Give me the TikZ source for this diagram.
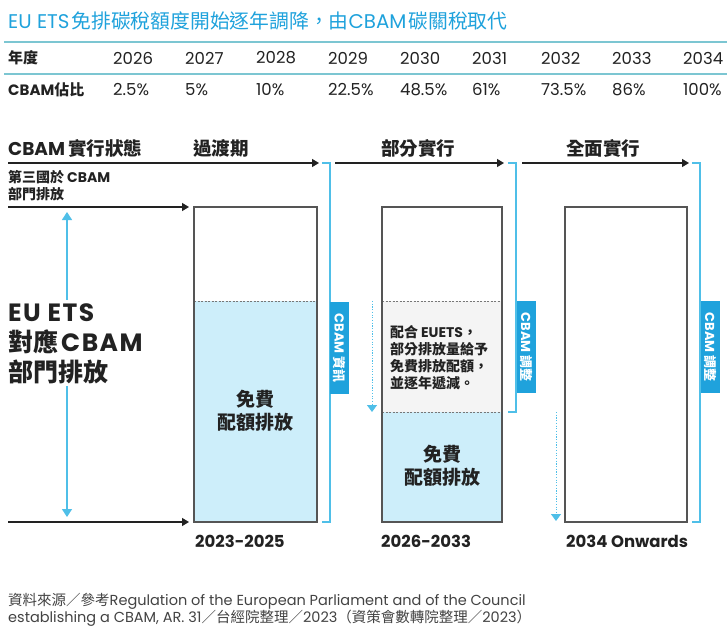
\documentclass[tikz,border=0pt]{standalone}
\usepackage{fontspec}
\setmainfont{Poppins}
\newfontfamily\cjk{Noto Sans CJK TC}
\usetikzlibrary{arrows.meta}
\definecolor{tblue}{HTML}{1FA2DC}
\definecolor{lblue}{HTML}{4FBFE8}
\definecolor{fillblue}{HTML}{CDEEFA}
\definecolor{tealline}{HTML}{7CC6D2}
\definecolor{ink}{HTML}{222222}
\definecolor{boxgray}{HTML}{555555}
\definecolor{midgray}{HTML}{F4F4F4}
\newcommand{\C}[1]{{\cjk #1}}
\newcommand{\fs}[1]{\fontsize{#1}{#1}\selectfont}
\begin{document}
\begin{tikzpicture}[x=1pt,y=-1pt,
  every node/.style={inner sep=0pt, text=ink},
  yr/.style={anchor=west, font=\fs{16.5}},
  hd/.style={anchor=west, font=\fs{15}\bfseries},
  phase/.style={anchor=west, font=\fs{18.5}\bfseries},
  blackarrow/.style={draw=ink, line width=1.2pt, -{Triangle[length=7pt,width=8pt]}},
  bracket/.style={draw=lblue, line width=1.3pt},
  tag/.style={fill=tblue, text=white, rotate=-90, minimum width=92pt, minimum height=19pt, font=\fs{13}\bfseries},
  column/.style={draw=boxgray, line width=1.4pt},
  sep/.style={draw=boxgray!80, line width=0.8pt, dash pattern=on 2pt off 1.5pt},
  bluearrow/.style={draw=lblue, line width=1.2pt, {Triangle[length=8pt,width=10pt]}-{Triangle[length=8pt,width=10pt]}},
  dotarrow/.style={draw=lblue, line width=1pt, dash pattern=on 1.2pt off 1.5pt, -{Triangle[length=7pt,width=10pt]}},
  yearlab/.style={anchor=west, font=\fs{16.5}\bfseries},
  boxtxt/.style={align=center, font=\fs{19}\bfseries, text=ink},
  foot/.style={anchor=west, font=\fs{14.5}, text=ink!85}
]
\useasboundingbox[fill=white] (0,0) rectangle (727,629);

% title
\node[anchor=west, text=tblue, font=\fs{19.8}] (title) at (8,21) {EU ETS\hspace{2pt}\C{免排碳稅額度開始逐年調降，由}CBAM\hspace{2pt}\C{碳關稅取代}};
\draw[tealline, line width=2.5pt] (4,42) -- (727,42);
\draw[tealline, line width=2.5pt] (4,74) -- (727,74);

% table
\node[hd] (h1) at (8,58) {\C{\bfseries 年度}};
\node[hd] (h2) at (8,90) {CBAM\C{\bfseries 佔比}};
\foreach \x/\y/\v [count=\i] in {113/2026/2.5\%,185/2027/5\%,256/2028/10\%,328/2029/22.5\%,400/2030/48.5\%,472/2031/61\%,541/2032/73.5\%,612/2033/86\%,683/2034/100\%}{
  \node[yr] (y\i) at (\x,58) {\y};
  \node[yr] (v\i) at (\x,90) {\v};
}

% phase headings
\node[phase] (state) at (8,148) {CBAM\hspace{3pt}\C{\bfseries 實行狀態}};
\node[phase] (p1) at (193,148) {\C{\bfseries 過渡期}};
\node[phase] (p2) at (381,148) {\C{\bfseries 部分實行}};
\node[phase] (p3) at (566,148) {\C{\bfseries 全面實行}};

% timeline arrows
\coordinate (t1s) at (8,163);   \coordinate (t1e) at (319,163);
\coordinate (t2s) at (335,163); \coordinate (t2e) at (504,163);
\coordinate (t3s) at (522,163); \coordinate (t3e) at (689,163);
\draw[blackarrow] (t1s) -- (t1e);
\draw[blackarrow] (t2s) -- (t2e);
\draw[blackarrow] (t3s) -- (t3e);

% third-country label and arrows
\node[anchor=west, font=\fs{14}\bfseries] (third1) at (8,177) {\C{\bfseries 第三國於} CBAM};
\node[anchor=west, font=\fs{14}\bfseries] (third2) at (8,194) {\C{\bfseries 部門排放}};
\coordinate (s1s) at (8,207); \coordinate (s1e) at (189,207);
\coordinate (s2s) at (8,522); \coordinate (s2e) at (189,522);
\draw[blackarrow] (s1s) -- (s1e);
\draw[blackarrow] (s2s) -- (s2e);

% column boxes
\fill[fillblue] (194,301) rectangle (317,522);
\draw[sep] (194,301) -- (317,301);
\draw[column] (194,207) rectangle (317,522);

\fill[midgray] (382,301) rectangle (502,412);
\fill[fillblue] (382,412) rectangle (502,522);
\draw[sep] (382,301) -- (502,301);
\draw[sep] (382,412) -- (502,412);
\draw[column] (382,207) rectangle (502,522);

\draw[column] (565,207) rectangle (687,522);

% box texts
\node[boxtxt] (free1) at (255.5,411) {\C{\bfseries 免費}\\[4pt]\C{\bfseries 配額排放}};
\node[boxtxt] (free2) at (442,466) {\C{\bfseries 免費}\\[4pt]\C{\bfseries 配額排放}};
\node[anchor=north west, align=left, font=\fs{14}\bfseries] (euets2) at (390,325) {\C{\bfseries 配合} EUETS\C{\bfseries ，}\\[3pt]\C{\bfseries 部分排放量給予}\\[3pt]\C{\bfseries 免費排放配額，}\\[3pt]\C{\bfseries 並逐年遞減。}};

% dotted arrows
\coordinate (d1s) at (372,301); \coordinate (d1e) at (372,412);
\coordinate (d2s) at (556,412); \coordinate (d2e) at (556,521);
\draw[dotarrow] (d1s) -- (d1e);
\draw[dotarrow] (d2s) -- (d2e);

% blue brackets
\draw[bracket] (322,163) -- (330,163) -- (330,522) -- (322,522);
\draw[bracket] (508,163) -- (516,163) -- (516,412) -- (508,412);
\draw[bracket] (692,163) -- (700,163) -- (700,522) -- (692,522);
\node[tag] (tag1) at (339.5,348) {CBAM \C{\bfseries 資訊}};
\node[tag] (tag2) at (526,347) {CBAM \C{\bfseries 調整}};
\node[tag] (tag3) at (710,347) {CBAM \C{\bfseries 調整}};

% vertical EU ETS arrow
\coordinate (va) at (67,212); \coordinate (vb) at (67,517);
\draw[bluearrow] (va) -- (vb);
\node[anchor=north west, align=left, fill=white, inner sep=3pt, font=\fontsize{25}{30}\selectfont\bfseries\addfontfeature{LetterSpace=6}] (big) at (5,300) {EU ETS\\\C{\bfseries 對應}\hspace{3pt}CBAM\\\C{\bfseries 部門排放}};

% year labels
\node[yearlab] (yl1) at (195,541) {2023-2025};
\node[yearlab] (yl2) at (381,541) {2026-2033};
\node[yearlab] (yl3) at (566,541) {2034 Onwards};

% footer
\node[foot] (src1) at (8,601) {\C{資料來源／參考}Regulation of the European Parliament and of the Council};
\node[foot] (src2) at (8,618) {establishing a CBAM, AR. 31\C{／台經院整理／}2023\C{（資策會數轉院整理／}2023\C{）}};
\end{tikzpicture}
\end{document}
